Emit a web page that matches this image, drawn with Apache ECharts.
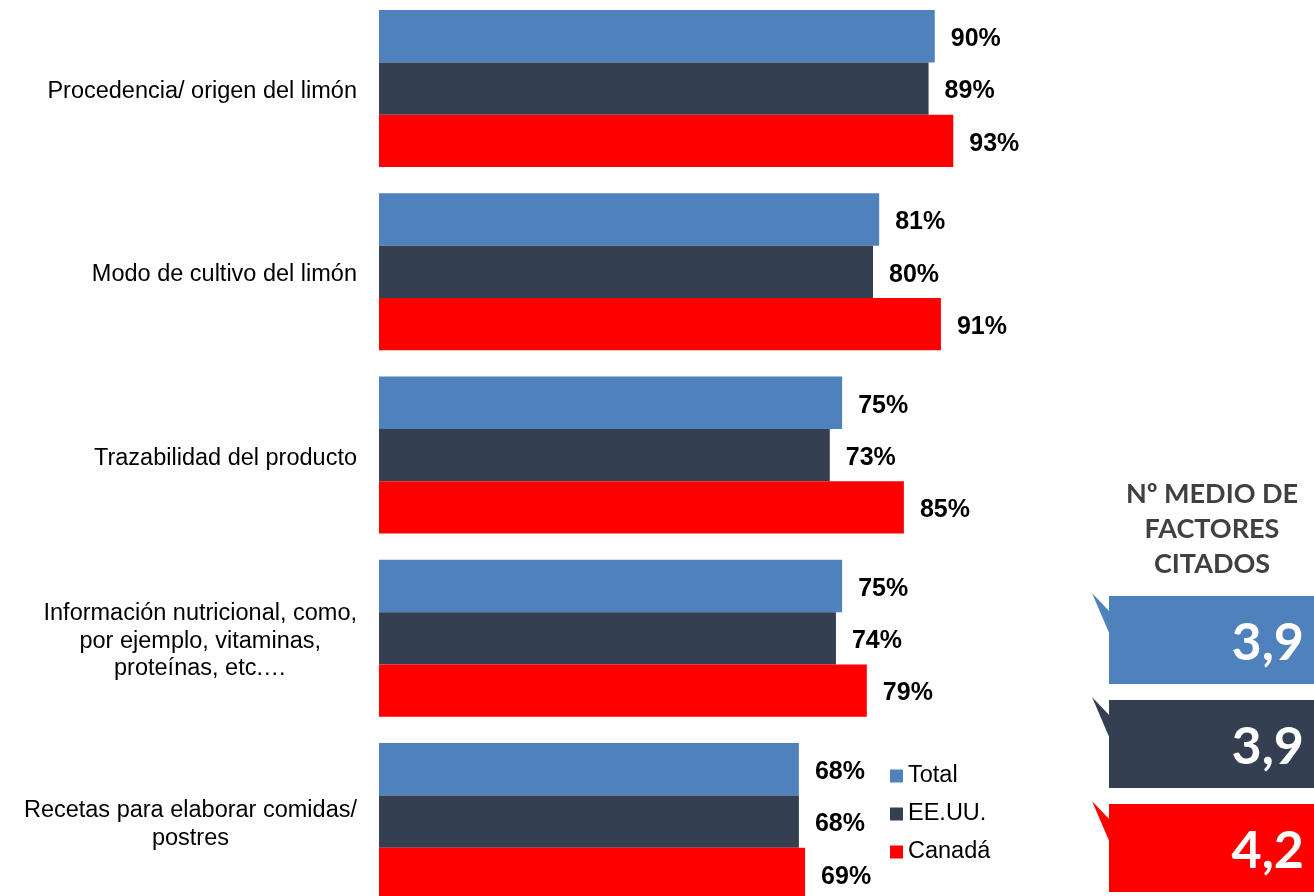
<!DOCTYPE html>
<html>
<head>
<meta charset="utf-8">
<script src="https://cdn.jsdelivr.net/npm/echarts@6/dist/echarts.min.js"></script>
<style>
  html, body { margin: 0; padding: 0; background: #fff; }
  #chart { width: 1314px; height: 896px; }
</style>
</head>
<body>
<div id="chart"></div>
<script>
// Factores de información valorados sobre el limón (% de menciones)
const categories = [
  'Procedencia/ origen del limón',
  'Modo de cultivo del limón',
  'Trazabilidad del producto',
  'Información nutricional, como,\npor ejemplo, vitaminas,\nproteínas, etc.…',
  'Recetas para elaborar comidas/\npostres'
];
const seriesNames = ['Total', 'EE.UU.', 'Canadá'];
const totalValues  = [90, 81, 75, 75, 68];
const eeuuValues   = [89, 80, 73, 74, 68];
const canadaValues = [93, 91, 85, 79, 69];

// Nº medio de factores citados por grupo
const avgTitle = ['Nº MEDIO DE', 'FACTORES', 'CITADOS'];
const avgFactors = [3.9, 3.9, 4.2];

const colors = ['#4F81BD', '#343F51', '#FF0000'];

const chart = echarts.init(document.getElementById('chart'), null, { renderer: 'canvas' });

const labelStyle = {
  show: true,
  position: 'right',
  distance: 16,
  offset: [0, 3],
  formatter: p => p.value + '%',
  fontFamily: 'Arial, "Liberation Sans", sans-serif',
  fontWeight: 'bold',
  fontSize: 25,
  color: '#000'
};

function makeBar(name, data, color) {
  return {
    name: name,
    type: 'bar',
    data: data,
    barWidth: 52.3,
    barGap: '0%',
    itemStyle: { color: color },
    label: labelStyle,
    emphasis: { disabled: true },
    animation: false
  };
}

// Panel lateral: título y recuadros con el número medio de factores
const panel = [];
avgTitle.forEach((line, i) => {
  panel.push({
    type: 'text',
    style: {
      text: line,
      x: 1212, y: 494 + i * 35,
      align: 'center', verticalAlign: 'middle',
      fontFamily: 'Lato, "DejaVu Sans", sans-serif',
      fontWeight: 'bold', fontSize: 27, fill: '#404040'
    }
  });
});
avgFactors.forEach((v, i) => {
  const top = 596 + i * 104;
  panel.push({
    type: 'polygon',
    shape: { points: [[1092, top - 3], [1110, top + 16], [1110, top + 39]] },
    style: { fill: colors[i] }
  });
  panel.push({
    type: 'rect',
    shape: { x: 1109, y: top, width: 220, height: 88 },
    style: { fill: colors[i] }
  });
  panel.push({
    type: 'text',
    style: {
      text: v.toFixed(1).replace('.', ','),
      x: 1304, y: top + 47,
      align: 'right', verticalAlign: 'middle',
      fontFamily: 'Lato, "DejaVu Sans", sans-serif',
      fontWeight: 'bold', fontSize: 52, fill: '#fff'
    }
  });
});

chart.setOption({
  animation: false,
  grid: {
    left: 379, top: -3.1, width: 617.5, height: 916.25,
    containLabel: false,
    outerBoundsMode: 'none'
  },
  xAxis: {
    type: 'value', min: 0, max: 100,
    show: false
  },
  yAxis: {
    type: 'category',
    data: categories,
    inverse: true,
    axisLine: { show: false },
    axisTick: { show: false },
    splitLine: { show: false },
    axisLabel: {
      margin: 22,
      align: 'right',
      padding: [6, 0, 0, 0],
      formatter: v => v.split('\n').map(s => '{c|' + s + '}').join('\n'),
      rich: {
        c: {
          align: 'center',
          fontFamily: 'Arial, "Liberation Sans", sans-serif',
          fontSize: 23.5,
          lineHeight: 27.5,
          color: '#000'
        }
      }
    }
  },
  legend: {
    data: seriesNames,
    orient: 'vertical',
    left: 890, top: 764,
    padding: 0,
    icon: 'rect',
    itemWidth: 13, itemHeight: 13,
    itemGap: 14,
    selectedMode: false,
    textStyle: {
      fontFamily: 'Arial, "Liberation Sans", sans-serif',
      fontSize: 23.5, lineHeight: 22, color: '#000'
    }
  },
  series: [
    makeBar(seriesNames[0], totalValues, colors[0]),
    makeBar(seriesNames[1], eeuuValues, colors[1]),
    makeBar(seriesNames[2], canadaValues, colors[2])
  ],
  graphic: panel
});
</script>
</body>
</html>
